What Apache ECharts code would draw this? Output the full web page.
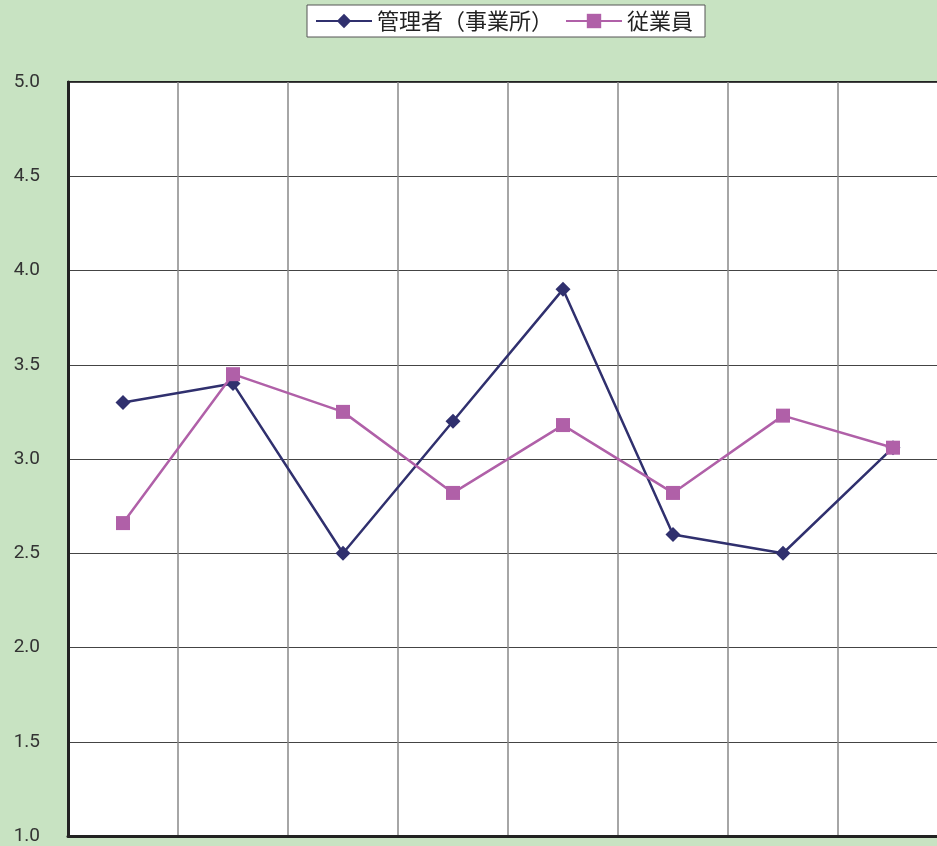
<!DOCTYPE html>
<html>
<head>
<meta charset="utf-8">
<script src="https://cdn.jsdelivr.net/npm/echarts@6/dist/echarts.min.js"></script>
<style>
  html, body { margin: 0; padding: 0; background: #c8e3c2; }
  #chart { width: 937px; height: 846px; }
</style>
</head>
<body>
<div id="chart"></div>
<script>
// Item numbers along the horizontal axis
const categories = ['1', '2', '3', '4', '5', '6', '7', '8'];
// Average scores
const managerScores = [3.30, 3.40, 2.50, 3.20, 3.90, 2.60, 2.50, 3.06];
const employeeScores = [2.66, 3.45, 3.25, 2.82, 3.18, 2.82, 3.23, 3.06];
const yTicks = { min: 1.0, max: 5.0, step: 0.5 };

const chart = echarts.init(document.getElementById('chart'));
chart.setOption({
  backgroundColor: '#c8e3c2',
  animation: false,
  textStyle: { fontFamily: '"Noto Sans CJK JP", "Noto Sans", sans-serif' },
  legend: {
    top: 5,
    left: 307,
    padding: [5, 12, 5, 8],
    backgroundColor: '#ffffff',
    borderColor: '#555555',
    borderWidth: 1,
    itemWidth: 56,
    itemHeight: 18,
    itemGap: 12,
    textStyle: { fontSize: 22, color: '#222222' },
    data: ['管理者（事業所）', '従業員']
  },
  grid: {
    left: 68, top: 82, width: 880, height: 754,
    containLabel: false,
    outerBoundsMode: 'none',
    show: true,
    backgroundColor: '#ffffff',
    borderColor: '#222222',
    borderWidth: 2
  },
  xAxis: {
    type: 'category',
    data: categories,
    boundaryGap: true,
    axisLine: { show: true, lineStyle: { color: '#222222', width: 3 } },
    axisTick: { show: false },
    axisLabel: { show: false },
    splitLine: { show: true, lineStyle: { color: '#888888', width: 1.5 } }
  },
  yAxis: {
    type: 'value',
    min: yTicks.min,
    max: yTicks.max,
    interval: yTicks.step,
    axisLine: { show: true, lineStyle: { color: '#222222', width: 3 } },
    axisTick: { show: false },
    axisLabel: {
      color: '#333333',
      fontSize: 19,
      fontFamily: 'Roboto, sans-serif',
      margin: 28,
      align: 'right',
      formatter: v => v.toFixed(1)
    },
    splitLine: { show: true, lineStyle: { color: '#444444', width: 1 } }
  },
  series: [
    {
      name: '管理者（事業所）',
      type: 'line',
      data: managerScores,
      symbol: 'diamond',
      symbolSize: 15,
      color: '#30306e',
      lineStyle: { width: 2.5, color: '#30306e' },
      itemStyle: { color: '#30306e' },
      z: 3
    },
    {
      name: '従業員',
      type: 'line',
      data: employeeScores,
      symbol: 'rect',
      symbolSize: 14,
      color: '#b060a8',
      lineStyle: { width: 2.5, color: '#b060a8' },
      itemStyle: { color: '#b060a8' },
      z: 4
    }
  ]
});
</script>
</body>
</html>
